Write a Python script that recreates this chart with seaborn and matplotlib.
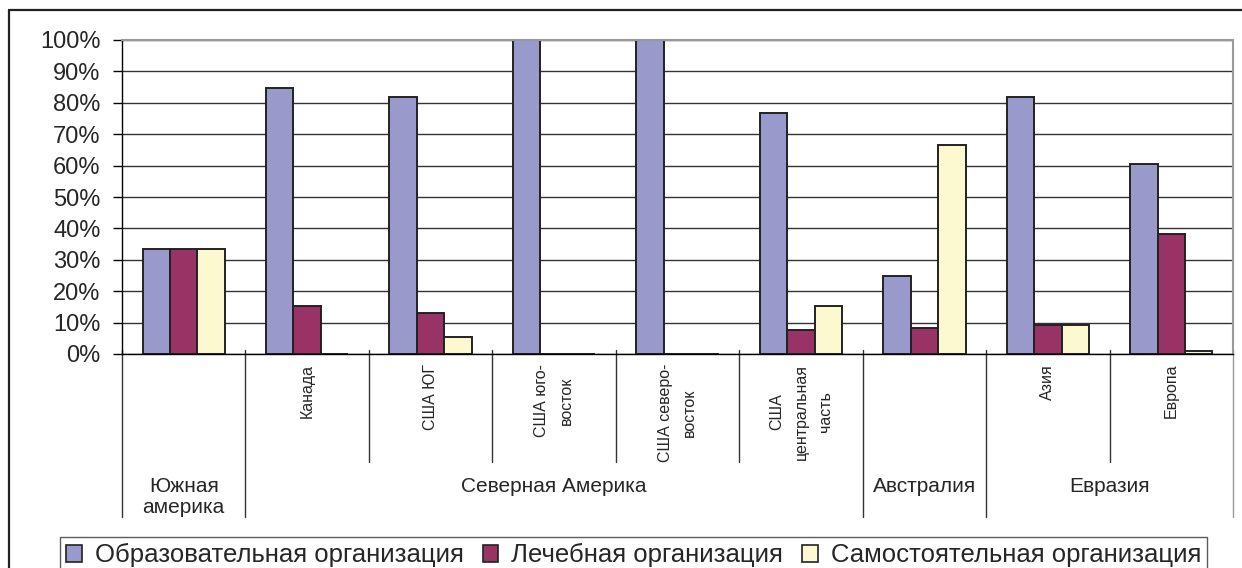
"""
Доля организаций по регионам: сгруппированная столбчатая диаграмма
с двухуровневой подписью оси категорий (в стиле Excel)
"""

import numpy as np
import pandas as pd
import matplotlib
matplotlib.use('Agg')
import matplotlib.pyplot as plt
import seaborn as sns
from matplotlib.lines import Line2D
from matplotlib.patches import Patch
from matplotlib.ticker import PercentFormatter
import matplotlib.transforms as mtransforms

# ==================== 数据 ====================
categories = ['Южная америка', 'Канада', 'США ЮГ', 'США юго-восток', 'США северо-восток',
              'США центральная часть', 'Австралия', 'Азия', 'Европа']
sub_labels = ['', 'Канада', 'США ЮГ', 'США юго-\nвосток', 'США северо-\nвосток',
              'США\nцентральная\nчасть', '', 'Азия', 'Европа']
group_labels = ['Южная\nамерика', 'Северная Америка', 'Австралия', 'Евразия']
group_sizes = [1, 5, 1, 2]

series_names = ['Образовательная организация', 'Лечебная организация', 'Самостоятельная организация']
edu = [33.3, 84.6, 81.8, 100.0, 100.0, 76.9, 25.0, 81.8, 60.6]
med = [33.3, 15.4, 12.9, 0.0, 0.0, 7.7, 8.3, 9.1, 38.3]
ind = [33.3, 0.0, 5.3, 0.0, 0.0, 15.4, 66.7, 9.1, 1.1]

colors = ['#9999cc', '#993366', '#fcf8cf']

df = pd.DataFrame({'Регион': categories,
                   series_names[0]: edu,
                   series_names[1]: med,
                   series_names[2]: ind})
df_long = df.melt(id_vars='Регион', var_name='Тип', value_name='Доля')

# ==================== 样式 ====================
sns.set_style('white')
plt.rcParams['font.family'] = ['Liberation Sans', 'DejaVu Sans']

W, H = 1242, 568
fig = plt.figure(figsize=(W / 100, H / 100), dpi=100)
ax = fig.add_axes([122 / W, 1 - 354 / H, (1233 - 122) / W, (354 - 40) / H])

sns.barplot(data=df_long, x='Регион', y='Доля', hue='Тип', order=categories,
            hue_order=series_names, palette=colors, saturation=1, width=0.667,
            gap=0, edgecolor='#222222', linewidth=1.4, legend=False, ax=ax)

ax.set_xlim(-0.5, len(categories) - 0.5)
ax.set_ylim(0, 100)
ax.set_yticks(np.arange(0, 101, 10))
ax.yaxis.set_major_formatter(PercentFormatter(decimals=0))
ax.tick_params(axis='y', direction='out', length=6.5, width=1, color='black',
               labelsize=17, pad=9, left=True)
ax.set_xticks([])
ax.set_xlabel('')
ax.set_ylabel('')
ax.grid(axis='y', color='#333333', linewidth=1)
ax.set_axisbelow(True)

for side in ['left', 'bottom']:
    ax.spines[side].set_color('black')
    ax.spines[side].set_linewidth(1)
for side in ['top', 'right']:
    ax.spines[side].set_color('#999999')
    ax.spines[side].set_linewidth(1.5)

# ==================== 多级分类轴 ====================
trans = mtransforms.blended_transform_factory(ax.transData, ax.transAxes)
y_tick_top = 4 / 314
y_inner = -(462 - 354) / 314
y_outer = -(517 - 354) / 314

group_edges = np.cumsum([0] + group_sizes) - 0.5
for b in np.arange(len(categories) + 1) - 0.5:
    is_group = np.any(np.isclose(group_edges, b))
    y_end = y_outer if is_group else y_inner
    col = '#999999' if b == len(categories) - 0.5 else '#333333'
    ax.add_line(Line2D([b, b], [y_tick_top, y_end], transform=trans, color=col,
                       linewidth=1, clip_on=False))

for i, lab in enumerate(sub_labels):
    if lab:
        ax.text(i, -10 / 314, lab, transform=trans, rotation=90, rotation_mode='anchor',
                ha='right', va='center', multialignment='center', fontsize=11.5,
                linespacing=1.8)

for g, lab in enumerate(group_labels):
    center = (group_edges[g] + group_edges[g + 1]) / 2
    ax.text(center, -(477 - 354) / 314, lab, transform=trans, ha='center', va='top',
            fontsize=15, linespacing=1.15)

# ==================== 外框与图例 ====================
fig.add_artist(Line2D([9 / W, 1], [1 - 10 / H, 1 - 10 / H], color='#222222', linewidth=1.6))
fig.add_artist(Line2D([9 / W, 9 / W], [0, 1 - 10 / H], color='#222222', linewidth=1.6))

handles = [Patch(facecolor=c, edgecolor='#222222', linewidth=1.2) for c in colors]
leg = fig.legend(handles, series_names, loc='upper left', bbox_to_anchor=(60 / W, 1 - 537 / H),
                 ncol=3, frameon=True, fancybox=False, edgecolor='#333333', borderaxespad=0,
                 fontsize=18.5, handlelength=0.6, handleheight=0.6, handletextpad=0.5,
                 columnspacing=0.75, borderpad=0.25)
leg.get_frame().set_linewidth(1)

fig.savefig('out.png', dpi=100)
